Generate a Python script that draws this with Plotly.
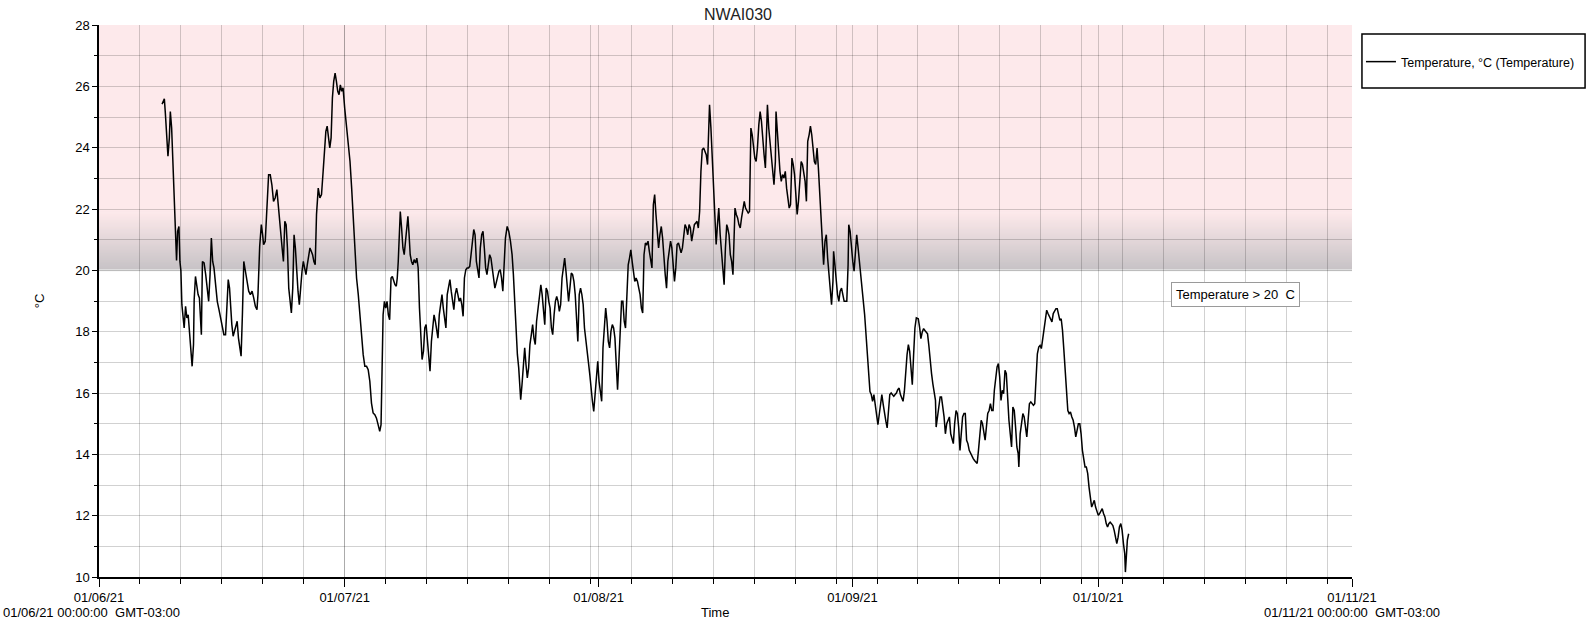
import pandas as pd
import plotly.graph_objects as go

# ---------------- data ----------------
chart_title = "NWAI030"
series_name = "Temperature, °C (Temperature)"
start_date = "2021-06-01"
end_date = "2021-11-01"
threshold = 20
threshold_label = "Temperature > 20  C"
y_min, y_max = 10, 28
month_ticks = ["2021-06-01", "2021-07-01", "2021-08-01", "2021-09-01", "2021-10-01", "2021-11-01"]
month_labels = ["01/06/21", "01/07/21", "01/08/21", "01/09/21", "01/10/21", "01/11/21"]
start_stamp_label = "01/06/21 00:00:00  GMT-03:00"
end_stamp_label = "01/11/21 00:00:00  GMT-03:00"

# days elapsed since 01/06/21 00:00
day_offset = [
    7.70, 7.98, 8.10, 8.30, 8.42, 8.59, 8.71, 8.87, 8.99, 9.11, 9.27, 9.35, 9.47, 9.60, 9.76, 9.88,
    10.00, 10.12, 10.28, 10.40, 10.57, 10.73, 10.89, 11.05, 11.21, 11.37, 11.54, 11.62, 11.78, 11.94,
    12.10, 12.26, 12.34, 12.50, 12.63, 12.83, 13.03, 13.23, 13.39, 13.56, 13.72, 13.88, 14.04, 14.20,
    14.44, 14.65, 14.85, 15.05, 15.25, 15.45, 15.66, 15.78, 15.94, 16.06, 16.22, 16.38, 16.54, 16.71,
    16.87, 17.03, 17.19, 17.35, 17.51, 17.68, 17.88, 18.08, 18.28, 18.48, 18.69, 18.89, 19.09, 19.29,
    19.41, 19.62, 19.82, 19.98, 20.10, 20.30, 20.50, 20.71, 20.91, 21.11, 21.31, 21.51, 21.72, 21.88,
    22.04, 22.20, 22.36, 22.52, 22.69, 22.85, 23.01, 23.17, 23.33, 23.49, 23.66, 23.82, 23.98, 24.14,
    24.30, 24.46, 24.62, 24.79, 24.95, 25.11, 25.27, 25.43, 25.59, 25.76, 25.92, 26.08, 26.24, 26.40,
    26.56, 26.77, 26.97, 27.17, 27.37, 27.53, 27.70, 27.86, 28.02, 28.18, 28.34, 28.50, 28.66, 28.83,
    28.99, 29.15, 29.31, 29.47, 29.63, 29.80, 30.00,
    30.24, 30.44, 30.65, 30.85, 31.05, 31.25, 31.45, 31.66, 31.86, 32.06, 32.26, 32.46, 32.67, 32.87,
    33.07, 33.27, 33.47, 33.68, 33.88, 34.08, 34.28, 34.44, 34.52, 34.69, 34.85, 35.01, 35.17, 35.33,
    35.49, 35.66, 35.82, 35.98, 36.14, 36.30, 36.42, 36.54, 36.71, 36.79, 36.95, 37.11, 37.27, 37.43,
    37.72, 37.84, 38.00, 38.16, 38.32, 38.48, 38.65, 38.81, 38.97, 39.13, 39.29, 39.45, 39.62, 39.78,
    39.94, 40.10, 40.26, 40.42, 40.59, 40.75, 40.91, 41.07, 41.23, 41.39, 41.55, 41.72, 41.88, 42.04,
    42.20, 42.36, 42.52, 42.69, 42.85, 43.01, 43.17, 43.33, 43.49, 43.66, 43.82, 43.98, 44.14, 44.30,
    44.46, 44.62, 44.79, 44.95, 45.11, 45.27, 45.43, 45.59, 45.76, 45.92, 46.08, 46.40, 46.56, 46.73,
    46.89, 47.05, 47.21, 47.37, 47.53, 47.70, 47.86, 48.02, 48.18, 48.34, 48.50, 48.66, 48.83, 48.99,
    49.15, 49.31, 49.47, 49.63, 49.84, 50.04, 50.24, 50.44, 50.60, 50.77, 50.93, 51.09, 51.25, 51.41,
    51.49, 51.65, 51.82, 51.98, 52.14, 52.30, 52.46, 52.62, 52.79, 52.95, 53.11, 53.27, 53.43,
    53.79, 53.95, 54.11, 54.27, 54.43, 54.60, 54.76, 54.92, 55.08, 55.24, 55.40, 55.57, 55.73, 55.89,
    56.05, 56.21, 56.37, 56.54, 56.70, 56.86, 57.02, 57.18, 57.34, 57.50, 57.67, 57.83, 57.99, 58.15,
    58.31, 58.47, 58.64, 58.80, 58.96, 59.12, 59.28, 59.44, 59.61, 59.77, 59.93, 60.09, 60.25, 60.41,
    60.58, 60.74, 60.90, 61.06, 61.22, 61.38, 61.54, 61.71, 61.87, 62.03, 62.19, 62.35, 62.51, 62.68,
    62.84, 63.00, 63.16, 63.32, 63.48, 63.65, 63.81, 63.97, 64.13, 64.29, 64.45, 64.62, 64.78, 64.94,
    65.10, 65.26, 65.42, 65.58, 65.75, 65.91, 66.07, 66.23, 66.39, 66.55, 66.72, 66.88, 67.04, 67.20,
    67.36, 67.52, 67.69, 67.85, 68.01, 68.17, 68.33, 68.49, 68.66, 68.82, 68.98, 69.14, 69.30, 69.46,
    69.62, 69.79, 69.95, 70.11, 70.27, 70.43, 70.59, 70.76, 70.92, 71.08, 71.24, 71.40, 71.56, 71.73,
    71.89, 72.05, 72.21, 72.37, 72.53, 72.70, 72.86, 73.02, 73.18, 73.34, 73.50, 73.66, 73.83, 73.99,
    74.15, 74.31, 74.47, 74.55, 74.72, 74.88, 75.04, 75.20, 75.36, 75.52, 75.68, 75.85, 76.01, 76.17,
    76.33, 76.49, 76.65,
    76.77, 76.93, 77.09, 77.25, 77.41, 77.58, 77.66, 77.82, 77.98, 78.14, 78.30, 78.46, 78.63, 78.79,
    78.95, 79.11, 79.27, 79.43, 79.52, 79.60, 79.76, 79.92, 80.08, 80.24, 80.40, 80.57, 80.73, 80.89,
    81.05, 81.21, 81.37, 81.54, 81.62, 81.78, 81.94, 82.10, 82.26, 82.42, 82.59, 82.67, 82.83, 82.99,
    83.15, 83.31, 83.47, 83.64, 83.80, 83.96, 84.12, 84.28, 84.44, 84.61, 84.77, 84.93, 85.09, 85.25,
    85.41, 85.58, 85.74, 85.90, 86.06, 86.22, 86.38, 86.54, 86.71, 86.87, 87.03, 87.19, 87.35, 87.51,
    87.68, 87.84, 88.00, 88.16, 88.32, 88.48, 88.65, 88.81, 88.97, 89.13, 89.29, 89.45, 89.62, 89.70,
    89.86, 90.02, 90.18, 90.34, 90.50, 90.67, 90.83, 90.99, 91.15, 91.31, 91.47, 91.55, 91.72, 91.88,
    92.04, 92.20, 92.36, 92.52, 92.69, 92.85, 93.01, 93.17, 93.33, 93.49, 93.66, 93.82, 93.98, 94.14,
    94.30, 94.46, 94.62, 94.79, 94.95, 95.11, 95.27, 95.43, 95.59, 95.76, 95.92, 96.08, 96.24, 96.40,
    96.56, 96.73, 96.89, 97.05, 97.21, 97.37, 97.53, 97.70, 97.86, 98.02, 98.18, 98.34, 98.50, 98.67,
    98.83, 98.99, 99.15, 99.31, 99.47, 99.63, 99.80,
    100.04, 100.20, 100.36, 100.53, 100.69, 100.85, 101.01, 101.17, 101.33, 101.49, 101.66, 101.82,
    101.98, 102.14, 102.22, 102.38, 102.55, 102.71, 102.87, 103.03, 103.19, 103.35, 103.51, 103.68,
    103.84, 104.00, 104.16, 104.32, 104.48, 104.65, 104.81, 104.97, 105.13, 105.29, 105.45, 105.62,
    105.78, 105.94, 106.10, 106.26, 106.42, 106.59, 106.75, 106.91, 107.07, 107.23, 107.39, 107.55,
    107.72, 107.88, 108.04, 108.20, 108.36, 108.52, 108.69, 108.85, 109.01, 109.17, 109.33, 109.49,
    109.66, 109.82, 109.98, 110.14, 110.30, 110.46, 110.63, 110.79, 110.95, 111.11, 111.27, 111.43,
    111.59, 111.76, 111.92, 112.08, 112.24, 112.32, 112.48, 112.65, 112.81, 112.97, 113.13, 113.29,
    113.45, 113.61, 113.78, 113.94, 114.10, 114.26, 114.42, 114.58, 114.75, 114.91, 115.07, 115.23,
    115.39, 115.55, 115.72, 115.88, 116.04, 116.20, 116.36, 116.52, 116.69, 116.85, 117.01, 117.17,
    117.33, 117.49, 117.65, 117.82, 117.98, 118.14, 118.30, 118.46, 118.62, 118.79, 118.95, 119.11,
    119.27, 119.43, 119.59, 119.76, 119.92, 120.08, 120.24, 120.40, 120.56, 120.73, 120.89, 121.05,
    121.21, 121.37, 121.53, 121.69, 121.86, 122.02, 122.18, 122.34, 122.50, 122.66, 122.83, 122.99,
    123.15, 123.31, 123.47, 123.63, 123.80, 123.96, 124.12, 124.28, 124.44, 124.60, 124.77, 124.93,
    125.09, 125.25, 125.33, 125.41, 125.57, 125.73,
]

temperature = [
    25.42, 25.59, 25.13, 24.32, 23.72, 24.32, 25.18, 24.64, 23.77, 22.79, 21.82, 21.27, 20.32, 21.27, 21.43, 20.29,
    19.99, 18.88, 18.39, 18.12, 18.83, 18.45, 18.55, 17.90, 17.20, 16.87, 17.58, 19.04, 19.80, 19.42,
    19.21, 19.10, 18.55, 17.90, 20.29, 20.24, 19.86, 19.32, 18.99, 19.86, 21.05, 20.29, 20.08, 19.64,
    18.99, 18.72, 18.45, 18.12, 17.90, 17.90, 19.21, 19.70, 19.42, 18.77, 18.23, 17.85, 18.01, 18.12,
    18.34, 17.79, 17.47, 17.20, 18.55, 20.29, 19.97, 19.64, 19.32, 19.21, 19.32, 19.10, 18.83, 18.72,
    19.21, 20.78, 21.49, 21.16, 20.84, 20.95, 21.92, 23.12, 23.12, 22.79, 22.25, 22.36, 22.63, 22.14,
    21.71, 20.95, 20.73, 20.29, 21.60, 21.49, 20.73, 19.42, 18.99, 18.61, 19.42, 21.16, 20.73, 19.75,
    19.32, 18.88, 19.53, 19.97, 20.29, 20.08, 19.86, 20.18, 20.51, 20.73, 20.62, 20.51, 20.29, 20.18,
    21.82, 22.68, 22.36, 22.47, 23.23, 23.99, 24.53, 24.70, 24.37, 23.99, 24.32, 25.62, 26.16, 26.43,
    26.16, 25.84, 25.73, 26.05, 25.84, 25.95, 25.29,
    24.64, 24.21, 23.55, 22.68, 21.71, 20.73, 19.75, 19.21, 18.45, 17.90, 17.25, 16.87, 16.87, 16.76,
    16.38, 15.67, 15.35, 15.29, 15.18, 14.97, 14.75, 14.97, 16.60, 18.55, 18.99, 18.77, 18.99, 18.55,
    18.39, 19.75, 19.80, 19.64, 19.53, 19.48, 19.75, 20.29, 21.16, 21.92, 21.38, 20.73, 20.51, 21.05,
    21.76, 21.27, 20.51, 20.29, 20.18, 20.35, 20.24, 20.40, 20.08, 18.77, 17.90, 17.09, 17.36, 18.12,
    18.23, 17.79, 17.25, 16.71, 17.68, 18.23, 18.55, 18.34, 18.12, 17.79, 18.55, 18.99, 19.21, 18.77,
    18.45, 18.12, 19.21, 19.53, 19.70, 19.32, 18.99, 18.72, 19.21, 19.42, 19.21, 18.99, 19.10, 18.88,
    18.50, 19.75, 20.02, 20.08, 20.08, 20.13, 20.51, 21.05, 21.33, 21.16, 20.29, 19.75, 20.73, 21.16,
    21.27, 20.73, 20.08, 19.86, 20.29, 20.51, 20.40, 20.08, 19.86, 19.42, 19.59, 19.75, 19.97, 20.02,
    19.75, 19.32, 20.08, 21.05, 21.43, 21.27, 20.95, 20.51, 19.86, 18.77, 17.90, 17.25, 16.82, 16.22,
    15.78, 16.27, 17.03, 17.47, 16.92, 16.49, 16.82, 17.58, 17.90, 18.23, 17.79, 17.58, 18.34,
    19.32, 19.53, 19.21, 18.55, 18.23, 19.42, 19.32, 18.99, 18.77, 18.12, 17.90, 18.55, 18.99, 19.15,
    18.99, 18.66, 18.88, 19.75, 20.08, 20.40, 19.97, 19.32, 18.99, 19.42, 19.91, 19.86, 19.64, 19.21,
    18.23, 17.68, 19.21, 19.42, 19.21, 18.88, 18.12, 17.68, 17.25, 16.98, 16.60, 16.05, 15.73, 15.40,
    15.95, 16.71, 17.03, 16.38, 15.95, 15.73, 17.47, 18.12, 18.77, 18.34, 17.68, 17.47, 18.01, 18.23,
    18.12, 17.79, 17.03, 16.11, 17.03, 17.90, 18.99, 18.99, 18.34, 18.12, 18.99, 20.18, 20.40, 20.67,
    20.29, 19.97, 19.64, 19.75, 19.64, 19.42, 19.21, 18.77, 18.61, 20.51, 20.89, 20.84, 20.95, 20.62,
    20.29, 20.08, 22.14, 22.47, 21.82, 21.38, 20.73, 21.16, 21.43, 21.05, 20.29, 19.86, 19.42, 20.29,
    20.62, 20.95, 20.73, 20.29, 19.64, 20.08, 20.84, 20.89, 20.73, 20.57, 20.73, 21.16, 21.49, 21.38,
    21.16, 21.49, 21.38, 20.95, 21.27, 21.49, 21.54, 21.60, 21.38, 21.92, 23.23, 23.93, 23.99, 23.88,
    23.77, 23.45, 24.42, 25.40, 24.64, 23.55, 22.47, 21.38, 20.84, 21.49, 22.03, 21.16, 20.51, 20.08,
    19.53, 20.73, 21.49,
    21.38, 21.16, 20.51, 20.29, 19.86, 20.95, 22.03, 21.82, 21.71, 21.49, 21.38, 21.71, 22.03, 22.25,
    22.03, 21.92, 21.87, 21.92, 23.23, 24.64, 24.42, 23.99, 23.66, 23.55, 23.99, 24.75, 25.18, 24.86,
    24.21, 23.77, 23.34, 24.64, 25.40, 24.64, 24.21, 23.55, 23.12, 22.79, 23.55, 25.18, 24.53, 23.77,
    23.23, 22.90, 23.12, 23.01, 23.23, 22.68, 22.25, 22.03, 22.14, 23.66, 23.45, 23.12, 22.47, 21.82,
    22.25, 22.90, 23.55, 23.45, 23.23, 22.90, 22.25, 24.21, 24.42, 24.70, 24.42, 23.99, 23.55, 23.45,
    23.99, 23.34, 22.47, 21.82, 20.95, 20.18, 20.95, 21.16, 20.40, 19.86, 19.21, 18.88, 19.64, 20.62,
    20.18, 19.64, 19.21, 18.99, 19.32, 19.42, 19.21, 18.99, 18.99, 18.99, 20.18, 21.49, 21.27, 20.73,
    20.29, 19.97, 20.51, 21.16, 20.73, 20.29, 19.97, 19.64, 19.21, 18.55, 17.90, 17.25, 16.60, 16.05,
    15.95, 15.73, 15.95, 15.62, 15.29, 14.97, 15.29, 15.73, 15.95, 15.62, 15.29, 15.08, 14.86, 15.29,
    15.95, 16.00, 15.95, 15.89, 15.95, 16.00, 16.11, 16.16, 15.95, 15.84, 15.73, 16.05, 16.71, 17.25,
    17.58, 17.36, 16.82, 16.27, 17.25, 18.12, 18.45,
    18.42, 18.15, 17.77, 17.99, 18.10, 18.04, 17.99, 17.93, 17.55, 16.96, 16.63, 16.30,
    15.98, 15.76, 14.89, 15.22, 15.54, 15.87, 15.87, 15.54, 15.22, 14.67, 15.00, 15.11,
    15.22, 14.67, 14.46, 14.35, 15.00, 15.43, 15.33, 14.89, 14.13, 14.67, 15.22, 15.33,
    15.33, 14.46, 14.35, 14.13, 14.02, 13.91, 13.86, 13.80, 13.75, 13.70, 14.13, 14.78,
    15.11, 15.00, 14.67, 14.46, 14.89, 15.33, 15.43, 15.65, 15.43, 15.43, 16.09, 16.41,
    16.85, 16.96, 16.52, 15.76, 16.09, 15.98, 16.74, 16.63, 15.76, 15.11, 14.67, 14.24,
    15.54, 15.43, 14.89, 14.24, 14.02, 13.59, 14.67, 15.11, 15.33, 15.22, 14.89, 14.57,
    15.11, 15.65, 15.71, 15.65, 15.60, 15.65, 16.52, 17.28, 17.50, 17.55, 17.45, 17.72,
    18.04, 18.37, 18.70, 18.59, 18.48, 18.37, 18.32, 18.59, 18.70, 18.75, 18.75, 18.59,
    18.37, 18.42, 18.04, 17.39, 16.74, 15.98, 15.43, 15.33, 15.38, 15.22, 15.11, 14.89,
    14.57, 14.78, 15.00, 15.00, 14.67, 14.13, 13.80, 13.59, 13.59, 13.37, 12.93, 12.50,
    12.28, 12.39, 12.50, 12.28, 12.12, 12.01, 12.07, 12.17, 12.23, 12.07, 11.96, 11.74,
    11.63, 11.74, 11.79, 11.74, 11.68, 11.52, 11.30, 11.09, 11.30, 11.63, 11.74, 11.52,
    11.09, 10.76, 10.16, 10.54, 11.20, 11.41,
]

# ---------------- style ----------------
FONT = "Liberation Sans, Arial, sans-serif"
GRID = "rgba(0,0,0,0.18)"
PINK = (253, 233, 235)
GRAY = (198, 194, 197)
FADE_TOP = 21.9          # where the band colour starts fading into grey
N_STRIPS = 48

W, H = 1592, 624
ML, MR, MT, MB = 99, 235, 25, 47
PW, PH = W - ML - MR, H - MT - MB


def px_x(p):  # pixel -> paper x
    return (p - ML) / PW


def px_y(p):  # pixel -> paper y
    return (H - MB - p) / PH


times = pd.Timestamp(start_date) + pd.to_timedelta(day_offset, unit="D")
minor_ticks = [d.strftime("%Y-%m-%d") for d in pd.date_range(start_date, end_date, freq="5D")]

fig = go.Figure()
fig.add_trace(go.Scatter(
    x=times, y=temperature, mode="lines", name=series_name,
    line=dict(color="black", width=1.5), showlegend=True,
))

shapes = []
# flat pink band above the fade
shapes.append(dict(type="rect", xref="paper", yref="y", x0=0, x1=1, y0=FADE_TOP, y1=y_max,
                   fillcolor="rgb(%d,%d,%d)" % PINK, line=dict(width=0), layer="below"))
# fading strips between the threshold and FADE_TOP (each overlaps all the ones above it,
# drawn bottom-up, so there are no seams)
step = (FADE_TOP - threshold) / N_STRIPS
for i in range(N_STRIPS):
    t = (i + 0.5) / N_STRIPS
    c = tuple(round(GRAY[k] + (PINK[k] - GRAY[k]) * t) for k in range(3))
    shapes.append(dict(type="rect", xref="paper", yref="y", x0=0, x1=1,
                       y0=threshold + i * step, y1=FADE_TOP + 0.02,
                       fillcolor="rgb(%d,%d,%d)" % c, line=dict(width=0), layer="below"))
# threshold boundary line
shapes.append(dict(type="line", xref="paper", yref="y", x0=0, x1=1, y0=threshold, y1=threshold,
                   line=dict(color="#e6e6e6", width=2), layer="below"))
# legend frame
shapes.append(dict(type="rect", xref="paper", yref="paper",
                   x0=px_x(1367), x1=px_x(1591), y0=px_y(88), y1=px_y(34),
                   line=dict(color="black", width=1.5), fillcolor="rgba(0,0,0,0)"))

annotations = [
    dict(text=threshold_label, xref="paper", yref="paper", x=px_x(1175), y=px_y(282),
         xanchor="left", yanchor="top", showarrow=False, bgcolor="white",
         bordercolor="#9a9a9a", borderwidth=1, borderpad=4, font=dict(size=13, color="black")),
    dict(text="Time", xref="paper", yref="paper", x=px_x(717), y=px_y(612),
         xanchor="center", yanchor="middle", showarrow=False, font=dict(size=13, color="black")),
    dict(text=start_stamp_label, xref="paper", yref="paper", x=px_x(1), y=px_y(612),
         xanchor="left", yanchor="middle", showarrow=False, font=dict(size=13, color="black")),
    dict(text=end_stamp_label, xref="paper", yref="paper", x=1.0, y=px_y(612),
         xanchor="center", yanchor="middle", showarrow=False, font=dict(size=13, color="black")),
]

fig.update_layout(
    width=W, height=H,
    margin=dict(l=ML, r=MR, t=MT, b=MB),
    paper_bgcolor="white", plot_bgcolor="white",
    font=dict(family=FONT, size=13, color="black"),
    title=dict(text=chart_title, x=738 / W, xanchor="center", y=1 - 14 / H, yanchor="middle",
               font=dict(size=16, color="#222222")),
    showlegend=True,
    legend=dict(x=px_x(1366), y=px_y(62), xanchor="left", yanchor="middle",
                bgcolor="rgba(0,0,0,0)", borderwidth=0, itemwidth=30,
                font=dict(size=12.5, color="black")),
    shapes=shapes,
    annotations=annotations,
    xaxis=dict(
        type="date", range=[start_date, end_date],
        tickmode="array", tickvals=month_ticks, ticktext=month_labels, tickangle=0,
        ticks="outside", ticklen=8, tickcolor="black", tickwidth=1,
        showline=True, linecolor="black", linewidth=1.5,
        showgrid=True, gridcolor=GRID, gridwidth=1, zeroline=False,
        minor=dict(tickmode="array", tickvals=minor_ticks, ticks="outside", ticklen=5,
                   tickcolor="black", showgrid=True, gridcolor=GRID, gridwidth=1),
    ),
    yaxis=dict(
        range=[y_min, y_max], tick0=y_min, dtick=2,
        ticks="outside", ticklen=5, tickcolor="black",
        showline=True, linecolor="black", linewidth=1.5,
        showgrid=True, gridcolor=GRID, gridwidth=1, zeroline=False,
        minor=dict(dtick=1, ticks="outside", ticklen=3, tickcolor="black",
                   showgrid=True, gridcolor=GRID, gridwidth=1),
        title=dict(text="°C", standoff=28, font=dict(size=13)),
    ),
)

# remove the browser's default 8px page margin so the figure sits at the window's corner
fig.write_html(
    "out.html",
    config={"displayModeBar": False},
    post_script="document.body.style.margin='0px';document.body.style.padding='0px';",
)
